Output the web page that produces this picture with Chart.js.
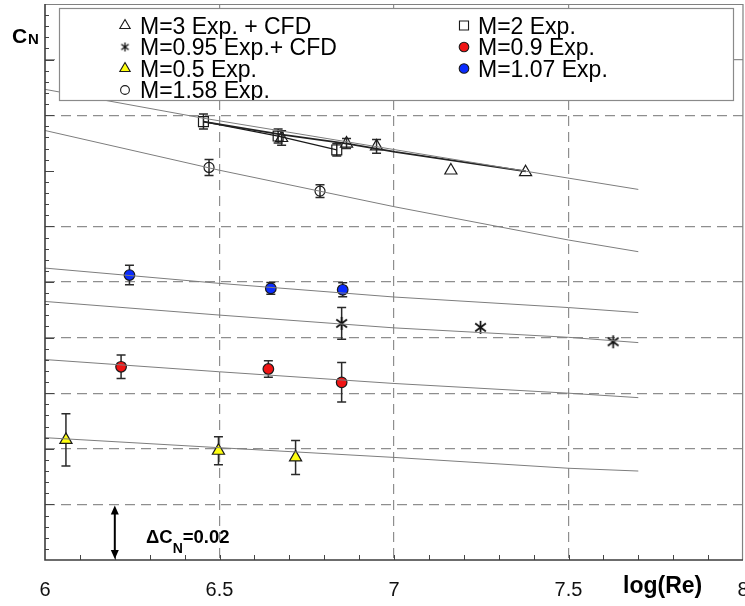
<!DOCTYPE html>
<html>
<head>
<meta charset="utf-8">
<title>CN vs log(Re)</title>
<script src="https://cdn.jsdelivr.net/npm/chart.js@4.4.1/dist/chart.umd.min.js"></script>
<style>
    html, body { margin: 0; padding: 0; background: #fff; }
    canvas { display: block; }
</style>
</head>
<body>
<canvas id="cnChart" width="745" height="606"></canvas>
<script>
// === DATA ===
const xTicks = [6, 6.5, 7, 7.5, 8];
const yGridLines = [0.02, 0.04, 0.06, 0.08, 0.10, 0.12, 0.16, 0.18];

// correlation curves (thin grey), shared x
const fitX = [6.0, 6.5, 7.0, 7.5, 7.7];
const fit158Y = [0.1545, 0.1402, 0.1271, 0.1151, 0.1109];
const fit107Y = [0.1050, 0.0995, 0.0946, 0.0908, 0.0890];
const fit095Y = [0.0930, 0.0881, 0.0835, 0.0801, 0.0782];
const fit09Y = [0.0721, 0.0677, 0.0635, 0.0600, 0.0584];
const fit05Y = [0.0440, 0.0404, 0.0369, 0.0330, 0.0320];
const fit3X = [6.0, 6.45, 7.38, 7.7];
const fit3Y = [0.1693, 0.1590, 0.1398, 0.1333];

// M=3 exp + CFD
const m3X = [6.678, 6.864, 6.950, 7.163, 7.377];
const m3Y = [0.1518, 0.1498, 0.1488, 0.1401, 0.1395];
const m3Err = [0.0026, 0.0018, 0.0025, 0, 0];
const m3CfdX = [6.453, 6.679, 6.865, 7.003, 7.378];
const m3CfdY = [0.1577, 0.1530, 0.1498, 0.1468, 0.1398];

// M=2
const m2X = [6.454, 6.668, 6.836];
const m2Y = [0.1577, 0.1525, 0.1475];
const m2Err = [0.0027, 0.0025, 0.0022];

// M=1.58
const m158X = [6.470, 6.788];
const m158Y = [0.1412, 0.1327];
const m158Err = [0.0029, 0.0023];

// M=1.07
const m107X = [6.242, 6.647, 6.853];
const m107Y = [0.1025, 0.0977, 0.0972];
const m107Err = [0.0035, 0.0021, 0.0025];

// M=0.95
const m095X = [6.850, 7.248, 7.628];
const m095Y = [0.0851, 0.0837, 0.0785];
const m095Err = [0.0057, 0, 0];

// M=0.9
const m09X = [6.218, 6.640, 6.850];
const m09Y = [0.0695, 0.0687, 0.0639];
const m09Err = [0.0042, 0.0030, 0.0071];

// M=0.5
const m05X = [6.060, 6.497, 6.718];
const m05Y = [0.0432, 0.0393, 0.0369];
const m05Err = [0.0094, 0.0050, 0.0061];

// === HELPERS ===
const FONT = '"Liberation Sans", Arial, Helvetica, sans-serif';

function pts(xs, ys, errs) {
    return xs.map((x, i) => ({ x: x, y: ys[i], err: errs ? errs[i] : 0 }));
}

function makeAsterisk(size, lw) {
    const c = document.createElement('canvas');
    c.width = size;
    c.height = size;
    const g = c.getContext('2d');
    const m = size / 2;
    const r = size / 2 - 1;
    g.strokeStyle = '#111';
    g.lineWidth = lw;
    g.beginPath();
    g.moveTo(m, m - r); g.lineTo(m, m + r);
    g.moveTo(m - 0.82 * r, m - 0.62 * r); g.lineTo(m + 0.82 * r, m + 0.62 * r);
    g.moveTo(m - 0.82 * r, m + 0.62 * r); g.lineTo(m + 0.82 * r, m - 0.62 * r);
    g.stroke();
    return c;
}

const asteriskBig = makeAsterisk(15, 1.7);
const asteriskSmall = makeAsterisk(11, 1.3);

function fitLine(xs, ys) {
    return {
        label: '',
        data: pts(xs, ys),
        showLine: true,
        borderColor: '#7d7d7d',
        borderWidth: 1,
        pointRadius: 0,
        pointHoverRadius: 0
    };
}

function markers(label, xs, ys, errs, style) {
    return Object.assign({
        label: label,
        data: pts(xs, ys, errs),
        showLine: false,
        borderColor: '#1a1a1a',
        borderWidth: 1.2,
        backgroundColor: 'rgba(0,0,0,0)',
        pointHoverRadius: 0
    }, style);
}

// === DATASETS ===
const datasets = [
    fitLine(fit3X, fit3Y),
    fitLine(fitX, fit158Y),
    fitLine(fitX, fit107Y),
    fitLine(fitX, fit095Y),
    fitLine(fitX, fit09Y),
    fitLine(fitX, fit05Y),
    {
        label: '',
        data: pts(m3CfdX, m3CfdY),
        showLine: true,
        borderColor: '#222',
        borderWidth: 1.8,
        pointRadius: 0,
        pointHoverRadius: 0
    },
    markers('M=2 Exp.', m2X, m2Y, m2Err, {
        showLine: true, pointStyle: 'rect', pointRadius: 7,
        legendPos: [1, 0], legendR: 6.4
    }),
    markers('M=3 Exp. + CFD', m3X, m3Y, m3Err, {
        pointStyle: 'triangle', pointRadius: 7,
        legendPos: [0, 0], legendR: 6
    }),
    markers('M=1.58 Exp.', m158X, m158Y, m158Err, {
        pointStyle: 'circle', pointRadius: 5,
        legendPos: [0, 3], legendR: 4.4
    }),
    markers('M=1.07 Exp.', m107X, m107Y, m107Err, {
        pointStyle: 'circle', pointRadius: 5.3, backgroundColor: '#0a2cff',
        legendPos: [1, 2], legendR: 4.8
    }),
    markers('M=0.95 Exp.+ CFD', m095X, m095Y, m095Err, {
        pointStyle: asteriskBig, legendStyle: asteriskSmall,
        legendPos: [0, 1], legendR: 4
    }),
    markers('M=0.9 Exp.', m09X, m09Y, m09Err, {
        pointStyle: 'circle', pointRadius: 5.3, backgroundColor: '#f01414',
        legendPos: [1, 1], legendR: 4.8
    }),
    markers('M=0.5 Exp.', m05X, m05Y, m05Err, {
        pointStyle: 'triangle', pointRadius: 7, backgroundColor: '#ffff10',
        legendPos: [0, 2], legendR: 6
    })
];

// === PLUGINS ===
const errorBarPlugin = {
    id: 'errorBars',
    beforeDatasetsDraw(chart) {
        const ctx = chart.ctx;
        const xs = chart.scales.x;
        const ys = chart.scales.y;
        ctx.save();
        ctx.strokeStyle = '#2a2a2a';
        ctx.lineWidth = 1.5;
        chart.data.datasets.forEach(ds => {
            ds.data.forEach(p => {
                if (!p.err) return;
                const x = xs.getPixelForValue(p.x);
                const y1 = ys.getPixelForValue(p.y + p.err);
                const y2 = ys.getPixelForValue(p.y - p.err);
                ctx.beginPath();
                ctx.moveTo(x, y1); ctx.lineTo(x, y2);
                ctx.moveTo(x - 4.5, y1); ctx.lineTo(x + 4.5, y1);
                ctx.moveTo(x - 4.5, y2); ctx.lineTo(x + 4.5, y2);
                ctx.stroke();
            });
        });
        ctx.restore();
    }
};

function drawMarker(ctx, style, x, y, r, fill, stroke) {
    ctx.save();
    if (style instanceof HTMLCanvasElement) {
        ctx.drawImage(style, x - style.width / 2, y - style.height / 2);
        ctx.restore();
        return;
    }
    ctx.lineWidth = 1.1;
    ctx.strokeStyle = stroke;
    ctx.fillStyle = fill;
    ctx.beginPath();
    if (style === 'triangle') {
        ctx.moveTo(x, y - r);
        ctx.lineTo(x + r * 0.866, y + r / 2);
        ctx.lineTo(x - r * 0.866, y + r / 2);
        ctx.closePath();
    } else if (style === 'rect') {
        const s = r * Math.SQRT1_2;
        ctx.rect(x - s, y - s, 2 * s, 2 * s);
    } else {
        ctx.arc(x, y, r, 0, Math.PI * 2);
    }
    ctx.fill();
    ctx.stroke();
    ctx.restore();
}

const framePlugin = {
    id: 'frame',
    afterDatasetsDraw(chart) {
        const { ctx, chartArea: a } = chart;
        const xs = chart.scales.x;
        const ys = chart.scales.y;
        ctx.save();
        // top and right frame
        ctx.strokeStyle = '#808080';
        ctx.lineWidth = 1.2;
        ctx.beginPath();
        ctx.moveTo(a.left, a.top + 0.5); ctx.lineTo(a.right, a.top + 0.5);
        ctx.lineTo(a.right - 0.5, a.bottom);
        ctx.stroke();
        // minor ticks
        ctx.strokeStyle = '#444';
        ctx.lineWidth = 1;
        ctx.beginPath();
        for (let i = 1; i < 20; i++) {
            const x = Math.round(xs.getPixelForValue(6 + i * 0.1)) + 0.5;
            ctx.moveTo(x, a.bottom); ctx.lineTo(x, a.bottom - 5);
        }
        for (let i = 1; i < 50; i++) {
            const v = i * 0.004;
            const y = Math.round(ys.getPixelForValue(v)) + 0.5;
            const major = i % 5 === 0;
            ctx.moveTo(a.left, y); ctx.lineTo(a.left + (major ? 9 : 4), y);
        }
        ctx.stroke();
        // left and bottom axis
        ctx.strokeStyle = '#3c3c3c';
        ctx.lineWidth = 1.6;
        ctx.beginPath();
        ctx.moveTo(a.left, a.top); ctx.lineTo(a.left, a.bottom);
        ctx.lineTo(a.right, a.bottom);
        ctx.stroke();
        ctx.restore();
    }
};

const legendPlugin = {
    id: 'boxLegend',
    afterDatasetsDraw(chart) {
        const ctx = chart.ctx;
        const box = { left: 59, top: 8, right: 733, bottom: 100 };
        const colText = [140, 478];
        const colMark = [125, 464];
        const rowBase = [33.5, 55, 76.5, 98];
        ctx.save();
        ctx.fillStyle = '#fff';
        ctx.fillRect(box.left, box.top, box.right - box.left, box.bottom - box.top);
        ctx.strokeStyle = '#8a8a8a';
        ctx.lineWidth = 1.2;
        ctx.strokeRect(box.left + 0.5, box.top + 0.5, box.right - box.left, box.bottom - box.top);
        ctx.beginPath();
        ctx.rect(box.left + 1, box.top + 1, box.right - box.left - 1, box.bottom - box.top - 1);
        ctx.clip();
        ctx.font = '23px ' + FONT;
        ctx.fillStyle = '#000';
        ctx.textBaseline = 'alphabetic';
        chart.data.datasets.forEach(ds => {
            if (!ds.legendPos) return;
            const [c, r] = ds.legendPos;
            drawMarker(ctx, ds.legendStyle || ds.pointStyle, colMark[c], rowBase[r] - 8,
                ds.legendR, ds.backgroundColor, ds.borderColor);
            ctx.fillStyle = '#000';
            ctx.fillText(ds.label, colText[c], rowBase[r]);
        });
        ctx.restore();
    }
};

const annotationPlugin = {
    id: 'annotations',
    afterDraw(chart) {
        const ctx = chart.ctx;
        const xs = chart.scales.x;
        const ys = chart.scales.y;
        ctx.save();
        ctx.fillStyle = '#000';
        ctx.textBaseline = 'alphabetic';
        // axis name CN
        ctx.font = 'bold 21px ' + FONT;
        ctx.fillText('C', 12, 43);
        ctx.font = 'bold 15px ' + FONT;
        ctx.fillText('N', 28, 44);
        // x axis name
        ctx.font = 'bold 23px ' + FONT;
        ctx.fillText('log(Re)', 623, 593);
        // ΔCN=0.02 scale arrow
        const ax = xs.getPixelForValue(6.2);
        const top = ys.getPixelForValue(0.02) + 1;
        const bot = ys.getPixelForValue(0) - 1;
        ctx.strokeStyle = '#000';
        ctx.lineWidth = 2;
        ctx.beginPath();
        ctx.moveTo(ax, top + 6); ctx.lineTo(ax, bot - 6);
        ctx.stroke();
        ctx.beginPath();
        ctx.moveTo(ax, top); ctx.lineTo(ax - 4, top + 9); ctx.lineTo(ax + 4, top + 9); ctx.closePath();
        ctx.moveTo(ax, bot); ctx.lineTo(ax - 4, bot - 9); ctx.lineTo(ax + 4, bot - 9); ctx.closePath();
        ctx.fill();
        ctx.font = 'bold 18.5px ' + FONT;
        let tx = 146;
        ctx.fillText('\u0394C', tx, 543);
        tx += ctx.measureText('\u0394C').width;
        ctx.font = 'bold 14px ' + FONT;
        ctx.fillText('N', tx, 553);
        tx += ctx.measureText('N').width;
        ctx.font = 'bold 18.5px ' + FONT;
        ctx.fillText('=0.02', tx, 543);
        ctx.restore();
    }
};

// === CHART ===
const chart = new Chart(document.getElementById('cnChart').getContext('2d'), {
    type: 'scatter',
    data: { datasets: datasets },
    options: {
        responsive: false,
        animation: false,
        events: [],
        layout: { autoPadding: false, padding: { top: 4, right: 2, left: 0, bottom: 0 } },
        plugins: {
            legend: { display: false },
            tooltip: { enabled: false }
        },
        scales: {
            x: {
                type: 'linear',
                min: 6,
                max: 8,
                afterBuildTicks: scale => {
                    scale.ticks = xTicks.map(v => ({ value: v }));
                },
                afterFit: scale => {
                    scale.height = 46;
                    scale.paddingLeft = 0;
                    scale.paddingRight = 0;
                },
                ticks: {
                    color: '#111',
                    padding: 18,
                    maxRotation: 0,
                    autoSkip: false,
                    font: { family: FONT, size: 20 },
                    callback: v => String(v)
                },
                grid: {
                    drawTicks: false,
                    lineWidth: 1.2,
                    color: c => (c.tick && c.tick.value > 6 && c.tick.value < 8) ? '#8e8e8e' : 'rgba(0,0,0,0)'
                },
                border: { display: false, dash: [10, 6] }
            },
            y: {
                type: 'linear',
                min: 0,
                max: 0.2,
                afterBuildTicks: scale => {
                    scale.ticks = yGridLines.map(v => ({ value: v }));
                },
                afterFit: scale => {
                    scale.width = 45;
                },
                ticks: { display: false },
                grid: {
                    drawTicks: false,
                    lineWidth: 1.2,
                    color: '#8e8e8e'
                },
                border: { display: false, dash: [10, 6] }
            }
        }
    },
    plugins: [errorBarPlugin, framePlugin, legendPlugin, annotationPlugin]
});
</script>
</body>
</html>
